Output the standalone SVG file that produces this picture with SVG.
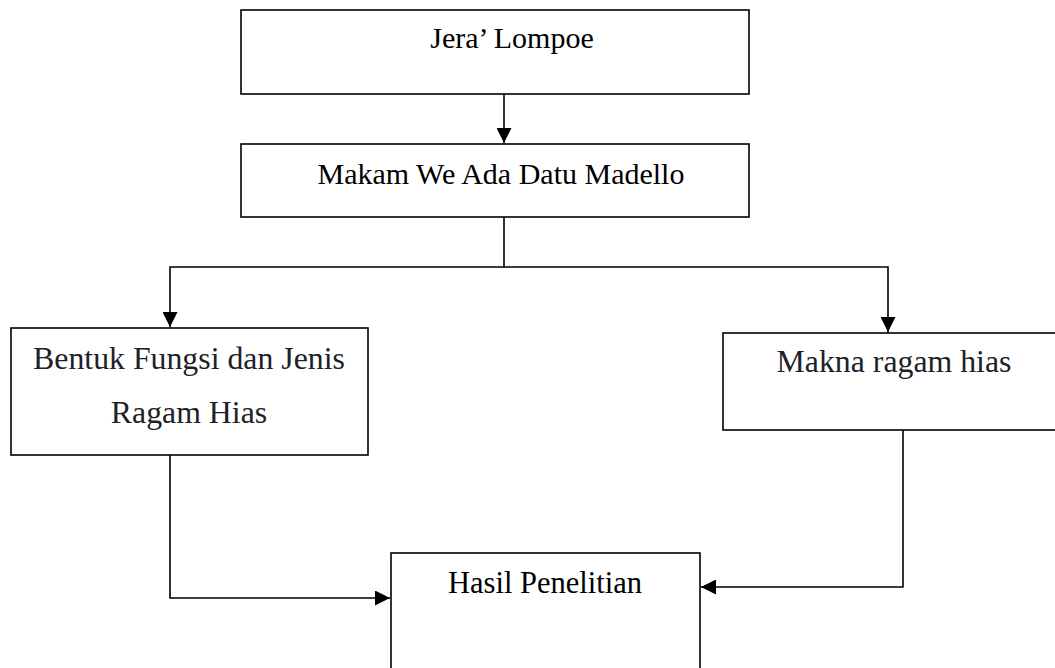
<svg xmlns="http://www.w3.org/2000/svg" width="1055" height="668" viewBox="0 0 1055 668">
<defs>
<style>
.box{fill:#fff;stroke:#000;stroke-width:1.6}
.lbl{font-family:"Liberation Serif","Times New Roman",serif;font-size:30px;fill:#000;text-anchor:middle}
.big{font-size:31.8px;fill:#1d2129}
.con{fill:none;stroke:#000;stroke-width:1.6}
</style>
<marker id="ah" viewBox="0 0 15 15" refX="15" refY="7.5" markerWidth="15" markerHeight="15" markerUnits="userSpaceOnUse" orient="auto">
<path d="M0,0 L15,7.5 L0,15 Z" fill="#000"/>
</marker>
</defs>
<rect width="1055" height="668" fill="#fff"/>
<g id="n1"><rect class="box" x="241" y="10" width="508" height="84"/><text class="lbl" x="512" y="48">Jera’ Lompoe</text></g>
<g id="n2"><rect class="box" x="241" y="144" width="508" height="73"/><text class="lbl" x="501" y="184">Makam We Ada Datu Madello</text></g>
<g id="n3"><rect class="box" x="11" y="328" width="357" height="127"/><text class="lbl big" x="189" y="369">Bentuk Fungsi dan Jenis</text><text class="lbl big" x="189" y="423">Ragam Hias</text></g>
<g id="n4"><rect class="box" x="723" y="333" width="333" height="97"/><text class="lbl big" x="894" y="372">Makna ragam hias</text></g>
<g id="n5"><rect class="box" x="391" y="553" width="309" height="130"/><text class="lbl" x="545" y="593" style="font-size:30.5px">Hasil Penelitian</text></g>
<g id="connectors">
<path class="con" d="M504,94 V143" marker-end="url(#ah)"/>
<path class="con" d="M504,217 V267"/>
<path class="con" d="M504,267 H170 V327" marker-end="url(#ah)"/>
<path class="con" d="M504,267 H888 V332" marker-end="url(#ah)"/>
<path class="con" d="M170,455 V598 H390" marker-end="url(#ah)"/>
<path class="con" d="M903,430 V587 H701" marker-end="url(#ah)"/>
</g>
</svg>
